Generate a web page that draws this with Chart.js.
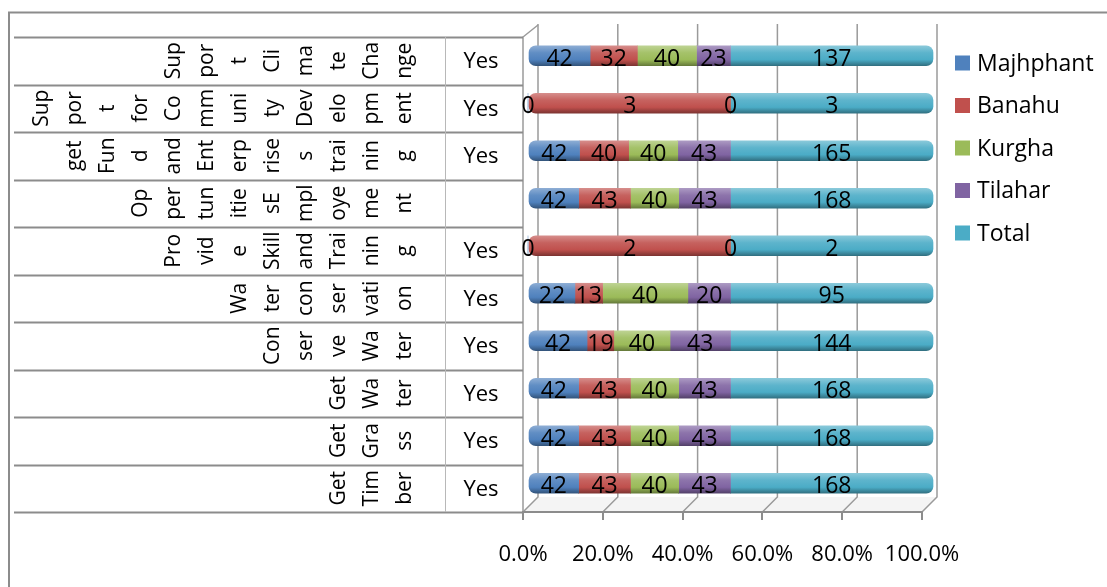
<!DOCTYPE html>
<html>
<head>
<meta charset="utf-8">
<script src="https://cdn.jsdelivr.net/npm/chart.js@4.4.1/dist/chart.umd.min.js"></script>
<style>
  html, body { margin: 0; padding: 0; background: #ffffff; }
  #wrap { width: 1107px; height: 587px; }
  canvas { display: block; }
</style>
</head>
<body>
<div id="wrap"><canvas id="chart" width="1107" height="587"></canvas></div>
<script>
// Activity names as they wrap in the label column, one entry per row (top to bottom)
const categoryLines = [
  ['Sup', 'por', 't', 'Cli', 'ma', 'te', 'Cha', 'nge'],
  ['Sup', 'por', 't', 'for', 'Co', 'mm', 'uni', 'ty', 'Dev', 'elo', 'pm', 'ent'],
  ['get', 'Fun', 'd', 'and', 'Ent', 'erp', 'rise', 's', 'trai', 'nin', 'g'],
  ['Op', 'per', 'tun', 'itie', 'sE', 'mpl', 'oye', 'me', 'nt'],
  ['Pro', 'vid', 'e', 'Skill', 'and', 'Trai', 'nin', 'g'],
  ['Wa', 'ter', 'con', 'ser', 'vati', 'on'],
  ['Con', 'ser', 've', 'Wa', 'ter'],
  ['Get', 'Wa', 'ter'],
  ['Get', 'Gra', 'ss'],
  ['Get', 'Tim', 'ber']
];
const answers = ['Yes', 'Yes', 'Yes', '', 'Yes', 'Yes', 'Yes', 'Yes', 'Yes', 'Yes'];

// Counts per village
const majhphant = [42, 0, 42, 42, 0, 22, 42, 42, 42, 42];
const banahu    = [32, 3, 40, 43, 2, 13, 19, 43, 43, 43];
const kurgha    = [40, 0, 40, 40, 0, 40, 40, 40, 40, 40];
const tilahar   = [23, null, 43, 43, null, 20, 43, 43, 43, 43];
const total     = [137, 3, 165, 168, 2, 95, 144, 168, 168, 168];

const seriesNames  = ['Majhphant', 'Banahu', 'Kurgha', 'Tilahar', 'Total'];
const seriesColors = ['#4F81BD', '#C0504D', '#9BBB59', '#8064A2', '#4BACC6'];
const xTickValues  = [0, 20, 40, 60, 80, 100];

const FONT = '"Open Sans", "Noto Sans", sans-serif';
const seriesValues = [majhphant, banahu, kurgha, tilahar, total];

// 100% stacking: each row is split by its own sum
const rowSums = categoryLines.map((_, i) =>
  seriesValues.reduce((s, arr) => s + (arr[i] || 0), 0));
const toPercent = arr => arr.map((v, i) => v === null ? null : v / rowSums[i] * 100);

function shade(hex, amt) {
  const n = parseInt(hex.slice(1), 16);
  let r = (n >> 16) & 255, g = (n >> 8) & 255, b = n & 255;
  const f = c => Math.round(amt >= 0 ? c + (255 - c) * amt : c * (1 + amt));
  return `rgb(${f(r)},${f(g)},${f(b)})`;
}

// Bars sit on the middle plane of the 3D box: shifted right/up and slightly widened
const DEPTH = { dx: 5, dy: -5, sx: 405 / 399 };
const BACK = { dx: 15, dyTop: -12, dyBottom: -15 };

function barGradient(ctx, color) {
  const chart = ctx.chart;
  const y = chart.scales && chart.scales.y;
  if (ctx.type !== 'data' || !y || !chart.chartArea) return color;
  const yc = y.getPixelForValue(ctx.dataIndex);
  const g = chart.ctx.createLinearGradient(0, yc - 10, 0, yc + 10);
  g.addColorStop(0, shade(color, 0.35));
  g.addColorStop(0.35, shade(color, 0.1));
  g.addColorStop(0.7, color);
  g.addColorStop(1, shade(color, -0.35));
  return g;
}

const datasets = seriesNames.map((name, d) => ({
  label: name,
  data: toPercent(seriesValues[d]),
  rawValues: seriesValues[d],
  backgroundColor: ctx => barGradient(ctx, seriesColors[d]),
  borderWidth: 0,
  borderSkipped: false,
  borderRadius: ctx => {
    const i = ctx.dataIndex;
    const r = { topLeft: 0, bottomLeft: 0, topRight: 0, bottomRight: 0 };
    if (seriesValues.slice(0, d).every(arr => !arr[i])) { r.topLeft = 7; r.bottomLeft = 7; }
    if (d === seriesValues.length - 1) { r.topRight = 7; r.bottomRight = 7; }
    return r;
  },
  barThickness: 20,
  clip: false
}));

const scenePlugin = {
  id: 'scene3d',
  beforeDraw(chart) {
    const { ctx, chartArea: a, scales: { x, y } } = chart;
    const n = categoryLines.length;
    ctx.save();

    // outer frame
    ctx.strokeStyle = '#8c8c8c';
    ctx.lineWidth = 2;
    ctx.beginPath();
    ctx.moveTo(9, 600); ctx.lineTo(9, 12.5); ctx.lineTo(1120, 12.5);
    ctx.stroke();

    // floor of the 3D box
    ctx.fillStyle = '#f4f4f4';
    ctx.beginPath();
    ctx.moveTo(a.left, a.bottom);
    ctx.lineTo(a.right, a.bottom);
    ctx.lineTo(a.right + BACK.dx, a.bottom + BACK.dyBottom);
    ctx.lineTo(a.left + BACK.dx, a.bottom + BACK.dyBottom);
    ctx.closePath();
    ctx.fill();

    // back-wall gridlines and floor diagonals at each tick
    ctx.strokeStyle = '#9a9a9a';
    ctx.lineWidth = 1.5;
    xTickValues.forEach(v => {
      const px = x.getPixelForValue(v);
      ctx.beginPath();
      ctx.moveTo(px + BACK.dx, a.top + BACK.dyTop - 1);
      ctx.lineTo(px + BACK.dx, a.bottom + BACK.dyBottom);
      ctx.lineTo(px, a.bottom);
      ctx.stroke();
    });

    // left wall front edge and its top edge
    ctx.beginPath();
    ctx.moveTo(a.left, a.bottom);
    ctx.lineTo(a.left, a.top);
    ctx.lineTo(a.left + BACK.dx, a.top + BACK.dyTop);
    ctx.stroke();

    // label table: row separators and the column divider
    const divX = 445;
    ctx.strokeStyle = '#8c8c8c';
    ctx.lineWidth = 2;
    for (let k = 0; k <= n; k++) {
      const yy = Math.round(y.getPixelForValue(k - 0.5)) + 0.5;
      ctx.beginPath();
      ctx.moveTo(14, yy);
      ctx.lineTo(a.left, yy);
      ctx.stroke();
    }
    ctx.strokeStyle = '#b8b8b8';
    ctx.lineWidth = 1;
    ctx.beginPath();
    ctx.moveTo(divX + 0.5, a.top);
    ctx.lineTo(divX + 0.5, a.bottom);
    ctx.stroke();

    // wrapped activity names, written bottom-to-top in columns
    ctx.fillStyle = '#000';
    ctx.font = `21px ${FONT}`;
    ctx.textAlign = 'center';
    ctx.textBaseline = 'middle';
    const colStep = 33, lastCol = divX - 40;
    categoryLines.forEach((lines, i) => {
      const yc = y.getPixelForValue(i);
      lines.forEach((t, j) => {
        const cx = lastCol - (lines.length - 1 - j) * colStep;
        ctx.save();
        ctx.translate(cx, yc);
        ctx.rotate(-Math.PI / 2);
        ctx.fillText(t, 0, 0);
        ctx.restore();
      });
    });

    // answer column
    ctx.font = `22px ${FONT}`;
    answers.forEach((t, i) => {
      if (t) ctx.fillText(t, 481, y.getPixelForValue(i) + 1);
    });

    // legend
    ctx.font = `23px ${FONT}`;
    ctx.textAlign = 'left';
    seriesNames.forEach((name, d) => {
      const ly = 63 + d * 42.5;
      ctx.fillStyle = seriesColors[d];
      ctx.fillRect(955, ly - 7.5, 15, 15);
      ctx.fillStyle = '#000';
      ctx.fillText(name, 977, ly + 1);
    });
    ctx.restore();
  },
  beforeDatasetsDraw(chart) {
    const { ctx, chartArea: a } = chart;
    ctx.save();
    ctx.translate(a.left + DEPTH.dx, DEPTH.dy);
    ctx.scale(DEPTH.sx, 1);
    ctx.translate(-a.left, 0);
  },
  afterDatasetsDraw(chart) {
    const { ctx, chartArea: a } = chart;
    ctx.restore();
    ctx.save();
    ctx.fillStyle = '#000';
    ctx.font = `23px ${FONT}`;
    ctx.textAlign = 'center';
    ctx.textBaseline = 'middle';
    chart.data.datasets.forEach((ds, d) => {
      const meta = chart.getDatasetMeta(d);
      ds.rawValues.forEach((v, i) => {
        if (v === null) return;
        const el = meta.data[i];
        const cx = (el.x + el.base) / 2;
        const X = a.left + DEPTH.dx + (cx - a.left) * DEPTH.sx;
        const Y = el.y + DEPTH.dy + 3.5;
        ctx.fillText(String(v), X, Y);
      });
    });
    ctx.restore();
  }
};

new Chart(document.getElementById('chart'), {
  type: 'bar',
  data: { labels: categoryLines.map(l => l.join('')), datasets },
  options: {
    indexAxis: 'y',
    responsive: false,
    animation: false,
    devicePixelRatio: 1,
    layout: { padding: { left: 523, right: 185, top: 37, bottom: 0 } },
    plugins: { legend: { display: false }, tooltip: { enabled: false } },
    scales: {
      x: {
        stacked: true,
        min: 0,
        max: 100,
        afterBuildTicks: s => { s.ticks = xTickValues.map(v => ({ value: v })); },
        afterFit: s => { s.height = 75; },
        ticks: {
          callback: v => Number(v).toFixed(1) + '%',
          font: { family: FONT, size: 22 },
          color: '#000',
          padding: 22,
          maxRotation: 0,
          autoSkip: false
        },
        grid: { display: true, drawOnChartArea: false, drawTicks: true, tickLength: 8, color: '#8c8c8c', lineWidth: 2 },
        border: { display: true, color: '#8c8c8c', width: 2 }
      },
      y: { stacked: true, display: false }
    }
  },
  plugins: [scenePlugin]
});
</script>
</body>
</html>
